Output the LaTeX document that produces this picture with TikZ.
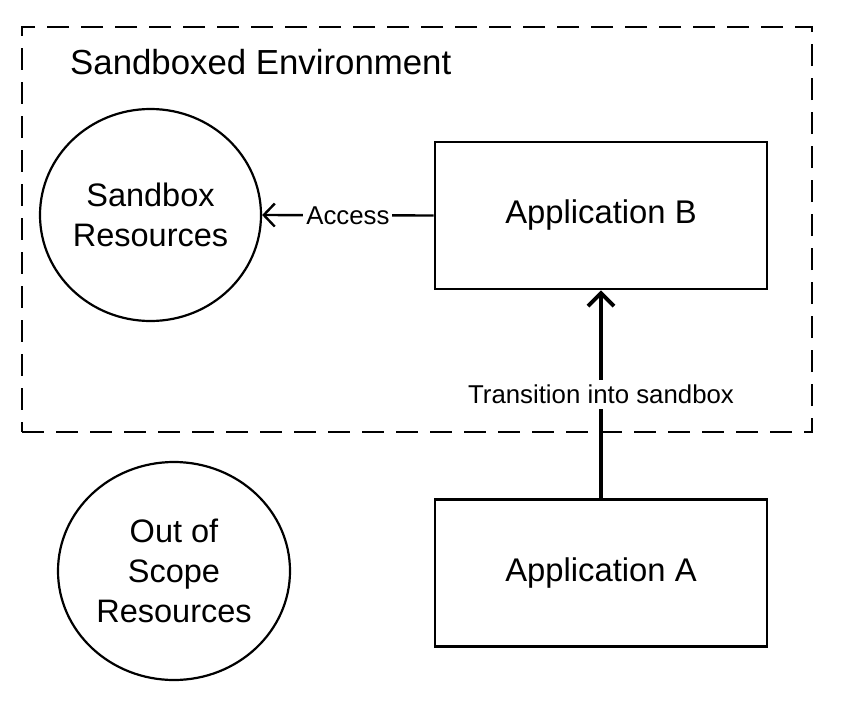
\documentclass[tikz,border=0pt]{standalone}
\usepackage{fontspec}
\setmainfont{Liberation Sans}
\usetikzlibrary{shapes.geometric,arrows.meta}
\tikzset{
  envbox/.style={draw, line width=2.2pt, dash pattern=on 22pt off 12pt, minimum width=790pt, minimum height=405pt, inner sep=0pt},
  appbox/.style={draw, line width=2.6pt, minimum width=332pt, minimum height=147pt, inner sep=0pt, font=\fontsize{32.8}{40}\selectfont},
  resnode/.style={draw, ellipse, line width=2.2pt, inner sep=0pt, align=center, font=\fontsize{32.5}{40}\selectfont},
  titletext/.style={anchor=base west, inner sep=0pt, font=\fontsize{34.8}{40}\selectfont},
  lbl/.style={fill=white, inner xsep=3pt, inner ysep=5pt, font=\fontsize{25.8}{30}\selectfont},
  thinarrow/.style={line width=2.4pt, -{Straight Barb[length=11pt, width=23pt]}},
  thickarrow/.style={line width=4pt, -{Straight Barb[length=13pt, width=26pt]}}
}
\begin{document}
\begin{tikzpicture}[x=1pt, y=-1pt]
\useasboundingbox (0,0) rectangle (842,704);
\node[envbox] (env) at (417,229.5) {};
\node[titletext] (title) at (70,74) {Sandboxed Environment};
\node[resnode, minimum width=221pt, minimum height=212pt] (sandres) at (150.5,215) {Sandbox\\Resources};
\node[resnode, minimum width=232pt, minimum height=218pt] (outres) at (174,571) {Out of\\Scope\\Resources};
\node[appbox] (appB) at (601,215.5) {Application B};
\node[appbox] (appA) at (601,573) {Application A};
\draw[thinarrow] (appB.west) -- node[lbl] {Access} (sandres.east);
\draw[thickarrow] (appA.north) -- node[lbl] {Transition into sandbox} (appB.south);
\end{tikzpicture}
\end{document}
